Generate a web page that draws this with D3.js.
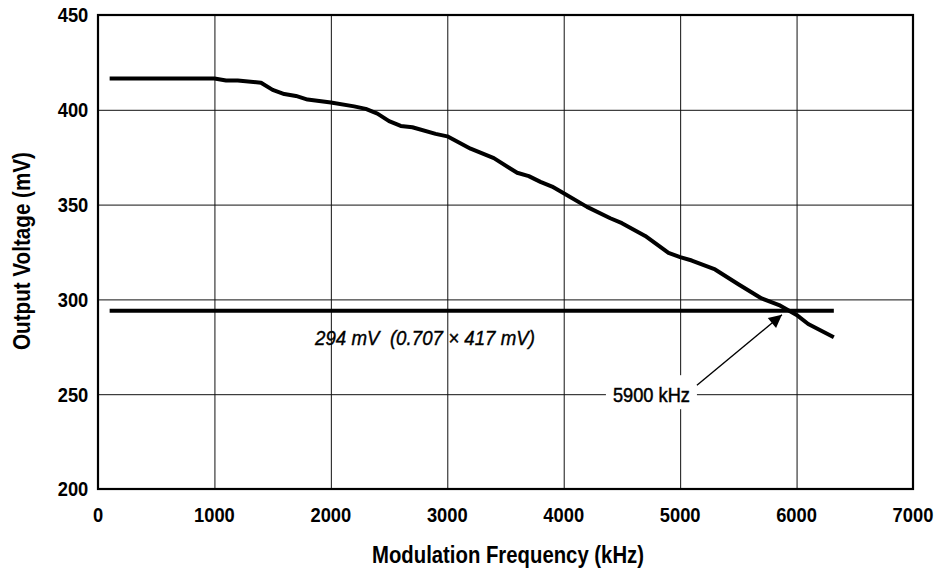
<!DOCTYPE html>
<html>
<head>
<meta charset="utf-8">
<script src="https://cdn.jsdelivr.net/npm/d3@7"></script>
<style>
  html, body { margin: 0; padding: 0; background: #fff; }
  svg text { font-family: "Liberation Sans", Arial, sans-serif; fill: #000; }
  .grid line { stroke: #111; stroke-width: 1; }
  .grid .domain { display: none; }
  .ticklabel { font-size: 20.5px; font-weight: bold; }
</style>
</head>
<body>
<div id="chart"></div>
<script>
/* Output voltage vs modulation frequency */

const freqKHz = [100, 1000, 1100, 1200, 1400, 1500, 1600, 1700, 1800, 2000, 2200, 2300, 2400, 2500,
  2600, 2700, 2900, 3000, 3200, 3400, 3600, 3700, 3800, 3900, 4000, 4200, 4400, 4500, 4700,
  4900, 5000, 5100, 5300, 5500, 5700, 5850, 6000, 6100, 6320];
const outputMV = [416.5, 416.5, 415.5, 415.5, 414.3, 410.5, 408.3, 407.3, 405.4, 403.8, 401.8, 400.5, 398, 394,
  391.5, 390.8, 387.3, 386, 379.5, 374.5, 366.8, 365, 362, 359.5, 356, 348.8, 342.8, 340.2, 333.5,
  324.5, 322.3, 320.5, 315.8, 308, 300.5, 297, 291.8, 287, 280];

const xTicks = [0, 1000, 2000, 3000, 4000, 5000, 6000, 7000];
const yTicks = [200, 250, 300, 350, 400, 450];

const threshold = 294;
const thresholdRange = [100, 6320];
const thresholdLabel = '294 mV  (0.707 \u00d7 417 mV)';
const crossFreq = 5900;
const crossLabel = '5900 kHz';

const width = 940, height = 573;
const margin = { top: 15, right: 27, bottom: 84, left: 98 };
const inner = { width: width - margin.left - margin.right, height: height - margin.top - margin.bottom };

const svg = d3.select('#chart').append('svg')
  .attr('width', width).attr('height', height);

const g = svg.append('g').attr('transform', `translate(${margin.left},${margin.top})`);

const x = d3.scaleLinear().domain([0, 7000]).range([0, inner.width]);
const y = d3.scaleLinear().domain([200, 450]).range([inner.height, 0]);

// Grid
g.append('g').attr('class', 'grid')
  .call(d3.axisBottom(x).tickValues(xTicks.slice(1, -1)).tickSize(inner.height).tickFormat(''));
g.append('g').attr('class', 'grid')
  .call(d3.axisLeft(y).tickValues(yTicks.slice(1, -1)).tickSize(-inner.width).tickFormat(''));

// Frame
g.append('rect')
  .attr('x', 0).attr('y', 0)
  .attr('width', inner.width).attr('height', inner.height)
  .attr('fill', 'none').attr('stroke', '#000').attr('stroke-width', 2.2);

// Tick labels (squeezed to look like a condensed face)
const squeeze = s => String(s).length * 10.2;

g.selectAll('.xlab').data(xTicks).enter().append('text')
  .attr('class', 'ticklabel')
  .attr('x', d => x(d) - squeeze(d) / 2)
  .attr('y', inner.height + 32.5)
  .attr('textLength', squeeze).attr('lengthAdjust', 'spacingAndGlyphs')
  .text(d => d);

g.selectAll('.ylab').data(yTicks).enter().append('text')
  .attr('class', 'ticklabel')
  .attr('x', d => -9.7 - squeeze(d))
  .attr('y', d => y(d))
  .attr('dy', '0.36em')
  .attr('textLength', squeeze).attr('lengthAdjust', 'spacingAndGlyphs')
  .text(d => d);

// Axis titles
svg.append('text')
  .attr('x', 372)
  .attr('y', 563)
  .attr('textLength', 272).attr('lengthAdjust', 'spacingAndGlyphs')
  .style('font-size', '23px').style('font-weight', 'bold')
  .text('Modulation Frequency (kHz)');

svg.append('text')
  .attr('transform', 'translate(30,350) rotate(-90)')
  .attr('textLength', 198).attr('lengthAdjust', 'spacingAndGlyphs')
  .style('font-size', '23px').style('font-weight', 'bold')
  .text('Output Voltage (mV)');

// Threshold line
g.append('line')
  .attr('x1', x(thresholdRange[0])).attr('x2', x(thresholdRange[1]))
  .attr('y1', y(threshold)).attr('y2', y(threshold))
  .attr('stroke', '#000').attr('stroke-width', 4);

g.append('text')
  .attr('x', 217)
  .attr('y', y(threshold) + 34)
  .attr('textLength', 220).attr('lengthAdjust', 'spacingAndGlyphs')
  .style('white-space', 'pre')
  .style('font-size', '21px').style('font-style', 'italic')
  .style('stroke', '#000').style('stroke-width', 0.4)
  .text(thresholdLabel);

// Curve
const line = d3.line().x((d, i) => x(freqKHz[i])).y(d => y(d));
g.append('path')
  .datum(outputMV)
  .attr('d', line)
  .attr('fill', 'none')
  .attr('stroke', '#000')
  .attr('stroke-width', 4)
  .attr('stroke-linejoin', 'round');

// Crossing annotation
svg.append('defs').append('marker')
  .attr('id', 'arrow')
  .attr('viewBox', '0 0 10 10')
  .attr('refX', 10).attr('refY', 5)
  .attr('markerWidth', 15).attr('markerHeight', 13)
  .attr('markerUnits', 'userSpaceOnUse')
  .attr('orient', 'auto')
  .append('path').attr('d', 'M0,0 L10,5 L0,10 z').attr('fill', '#000');

const labelX = x(4500) - 10, labelY = y(250);
g.append('rect')
  .attr('x', labelX - 6).attr('y', labelY - 19)
  .attr('width', 91).attr('height', 34)
  .attr('fill', '#fff');

g.append('text')
  .attr('x', labelX + 1)
  .attr('y', labelY + 7.5)
  .attr('textLength', 77).attr('lengthAdjust', 'spacingAndGlyphs')
  .style('font-size', '21px')
  .style('stroke', '#000').style('stroke-width', 0.5)
  .text(crossLabel);

g.append('line')
  .attr('x1', labelX + 85).attr('y1', labelY - 9)
  .attr('x2', x(crossFreq) - 3).attr('y2', y(threshold) + 4)
  .attr('stroke', '#000').attr('stroke-width', 1.4)
  .attr('marker-end', 'url(#arrow)');
</script>
</body>
</html>
